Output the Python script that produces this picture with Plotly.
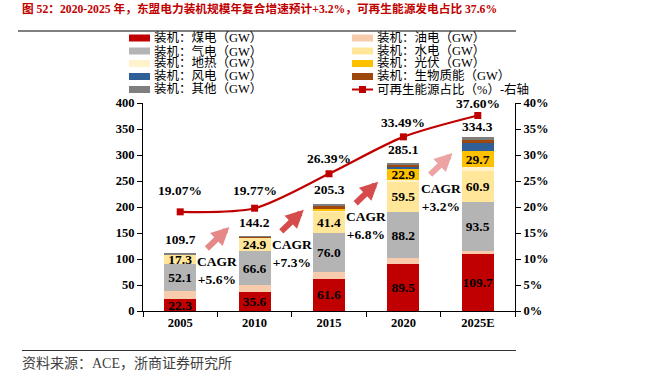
import plotly.graph_objects as go

# ---------------- data ----------------
years = ["2005", "2010", "2015", "2020", "2025E"]
coal = [22.3, 35.6, 61.6, 89.5, 109.7]
oil = [16.0, 13.5, 12.8, 12.0, 6.0]
gas = [52.1, 66.6, 76.0, 88.2, 93.5]
hydro = [17.3, 24.9, 41.4, 59.5, 60.9]
geothermal = [0.8, 1.2, 1.9, 2.0, 7.0]
solar = [0.1, 0.2, 2.5, 22.9, 29.7]
wind = [0.1, 0.1, 0.5, 3.0, 16.0]
biomass = [0.8, 1.5, 6.5, 5.0, 6.4]
other = [0.2, 0.6, 2.1, 3.0, 5.1]
totals = [109.7, 144.2, 205.3, 285.1, 334.3]
renew_share = [19.07, 19.77, 26.39, 33.49, 37.60]
cagr_labels = ["+5.6%", "+7.3%", "+6.8%", "+3.2%"]

names = {
    "coal": "装机：煤电（GW）",
    "oil": "装机：油电（GW）",
    "gas": "装机：气电（GW）",
    "hydro": "装机：水电（GW）",
    "geo": "装机：地热（GW）",
    "solar": "装机：光伏（GW）",
    "wind": "装机：风电（GW）",
    "bio": "装机：生物质能（GW）",
    "other": "装机：其他（GW）",
    "line": "可再生能源占比（%）-右轴",
}

title_text = "图 52：2020-2025 年，东盟电力装机规模年复合增速预计+3.2%，可再生能源发电占比 37.6%"
source_text = "资料来源：ACE，浙商证券研究所"

# ---------------- style ----------------
FONT = "'Liberation Serif', 'Noto Sans CJK SC', serif"
CJK = "'Liberation Serif', 'Noto Sans CJK SC', sans-serif"
colors = {
    "coal": "#C00000", "oil": "#F8CBAD", "gas": "#B4B4B4", "hydro": "#FFE699",
    "geo": "#FFF2CC", "solar": "#FFC000", "wind": "#2E5F96", "bio": "#9E480E",
    "other": "#7F7F7F", "line": "#C00000",
}
stack = [("coal", coal, True), ("oil", oil, False), ("gas", gas, True),
         ("hydro", hydro, True), ("geo", geothermal, False), ("solar", solar, True),
         ("wind", wind, False), ("bio", biomass, False), ("other", other, False)]

W, H = 648, 387
L, R, T, B = 143, 133, 103, 76
PW, PH = W - L - R, H - T - B


def px(x):  # window pixel -> paper
    return (x - L) / PW


def py(y):
    return (H - B - y) / PH


fig = go.Figure()
for key, vals, labelled in stack:
    fig.add_trace(go.Bar(
        x=years, y=vals, name=names[key], marker_color=colors[key],
        marker_line_width=0,
        text=[f"{v:.1f}" if (labelled and v >= 10) else "" for v in vals],
        textposition="inside", insidetextanchor="middle", textangle=0,
        textfont=dict(family=FONT, size=13.5, color="black", weight="bold"),
        hoverinfo="skip", showlegend=False,
    ))

fig.add_trace(go.Scatter(
    x=years, y=renew_share, yaxis="y2", mode="lines+markers", name=names["line"],
    line=dict(color=colors["line"], width=2.2, shape="spline", smoothing=0.8),
    marker=dict(symbol="square", size=7, color=colors["line"]),
    hoverinfo="skip", showlegend=False, cliponaxis=False,
))

annotations = []
# totals above bars (category index used as x)
total_shift = [14, 14, 15, 13, 11]
for i, t in enumerate(totals):
    annotations.append(dict(x=i, y=t, xref="x", yref="y", text=f"{t:.1f}",
                            showarrow=False, yshift=total_shift[i],
                            font=dict(family=FONT, size=13.5, color="black", weight="bold")))
# renewable share labels
share_shift = [21, 18, 15, 14, 12]
for i, v in enumerate(renew_share):
    annotations.append(dict(x=i, y=v, xref="x", yref="y2", text=f"{v:.2f}%",
                            showarrow=False, yshift=share_shift[i],
                            font=dict(family=FONT, size=13.5, color="black", weight="bold")))
# CAGR labels and arrows
cagr_y = [77, 110, 164, 219]
arrow_colors = ["#E48888", "#D64C4C", "#D64C4C", "#EBA3A3"]
for i, lab in enumerate(cagr_labels):
    annotations.append(dict(x=i + 0.5, y=cagr_y[i], xref="x", yref="y",
                            text=f"CAGR<br>{lab}", showarrow=False, align="center",
                            font=dict(family=FONT, size=13.5, color="black", weight="bold")))
    annotations.append(dict(x=i + 0.5, y=cagr_y[i], xref="x", yref="y", text="",
                            showarrow=True, xshift=12, yshift=44, ax=-24, ay=23,
                            arrowhead=2, arrowwidth=6, arrowsize=0.6,
                            arrowcolor=arrow_colors[i]))

# title and source
annotations.append(dict(x=px(20), y=py(9), xref="paper", yref="paper", xanchor="left",
                        yanchor="middle", text=title_text, showarrow=False,
                        font=dict(family=CJK, size=11.7, color="#C00000", weight="bold")))
annotations.append(dict(x=px(20), y=py(363), xref="paper", yref="paper", xanchor="left",
                        yanchor="middle", text=source_text, showarrow=False,
                        font=dict(family=CJK, size=14, color="#404040")))

shapes = [
    dict(type="line", xref="paper", yref="paper", x0=px(18), x1=px(516), y0=py(31), y1=py(31),
         line=dict(color="#808080", width=2)),
    dict(type="line", xref="paper", yref="paper", x0=px(22), x1=px(516), y0=py(350.5), y1=py(350.5),
         line=dict(color="#333333", width=1)),
]

# manual legend (two columns)
row_y = [38, 51, 63.5, 76.5, 89.5]
left_col = ["coal", "gas", "geo", "wind", "other"]
right_col = ["oil", "hydro", "solar", "bio", "line"]
for col, (sx0, sx1, tx) in ((left_col, (129, 150, 152)), (right_col, (352, 373, 375))):
    for key, ry in zip(col, row_y):
        if key == "line":
            shapes.append(dict(type="line", xref="paper", yref="paper", x0=px(sx0), x1=px(sx1),
                               y0=py(ry), y1=py(ry), line=dict(color=colors[key], width=2)))
            shapes.append(dict(type="rect", xref="paper", yref="paper", x0=px(359), x1=px(366),
                               y0=py(ry - 3.5), y1=py(ry + 3.5), line=dict(width=0),
                               fillcolor=colors[key]))
        else:
            shapes.append(dict(type="rect", xref="paper", yref="paper", x0=px(sx0), x1=px(sx1),
                               y0=py(ry + 3.5), y1=py(ry - 3.5), line=dict(width=0),
                               fillcolor=colors[key]))
        annotations.append(dict(x=px(tx), y=py(ry), xref="paper", yref="paper",
                                xanchor="left", yanchor="middle", text=names[key],
                                showarrow=False,
                                font=dict(family=CJK, size=12.5, color="black")))

axis_font = dict(family=FONT, size=12.5, color="black", weight="bold")
fig.update_layout(
    width=W, height=H,
    margin=dict(l=L, r=R, t=T, b=B),
    paper_bgcolor="white", plot_bgcolor="white",
    barmode="stack", bargap=0.57,
    uniformtext=dict(minsize=13.5, mode="show"),
    showlegend=False,
    xaxis=dict(type="category", range=[-0.5, 4.5], showline=True, linecolor="black",
               linewidth=1, ticks="outside", tickson="boundaries", ticklen=5,
               tickcolor="black", tickfont=axis_font, showgrid=False),
    yaxis=dict(range=[0, 400], dtick=50, showline=True, linecolor="black", linewidth=1,
               ticks="outside", ticklen=5, tickcolor="black", tickfont=axis_font,
               showgrid=False, zeroline=False),
    yaxis2=dict(range=[0, 40], dtick=5, ticksuffix="%", overlaying="y", side="right",
                showline=True, linecolor="black", linewidth=1, ticks="outside", ticklen=5,
                tickcolor="black", tickfont=axis_font, showgrid=False, zeroline=False),
    annotations=annotations,
    shapes=shapes,
)

# remove the browser's default 8px body margin so the figure sits at (0, 0)
fig.write_html("out.html", config={"displayModeBar": False},
               post_script="document.body.style.margin='0';")
